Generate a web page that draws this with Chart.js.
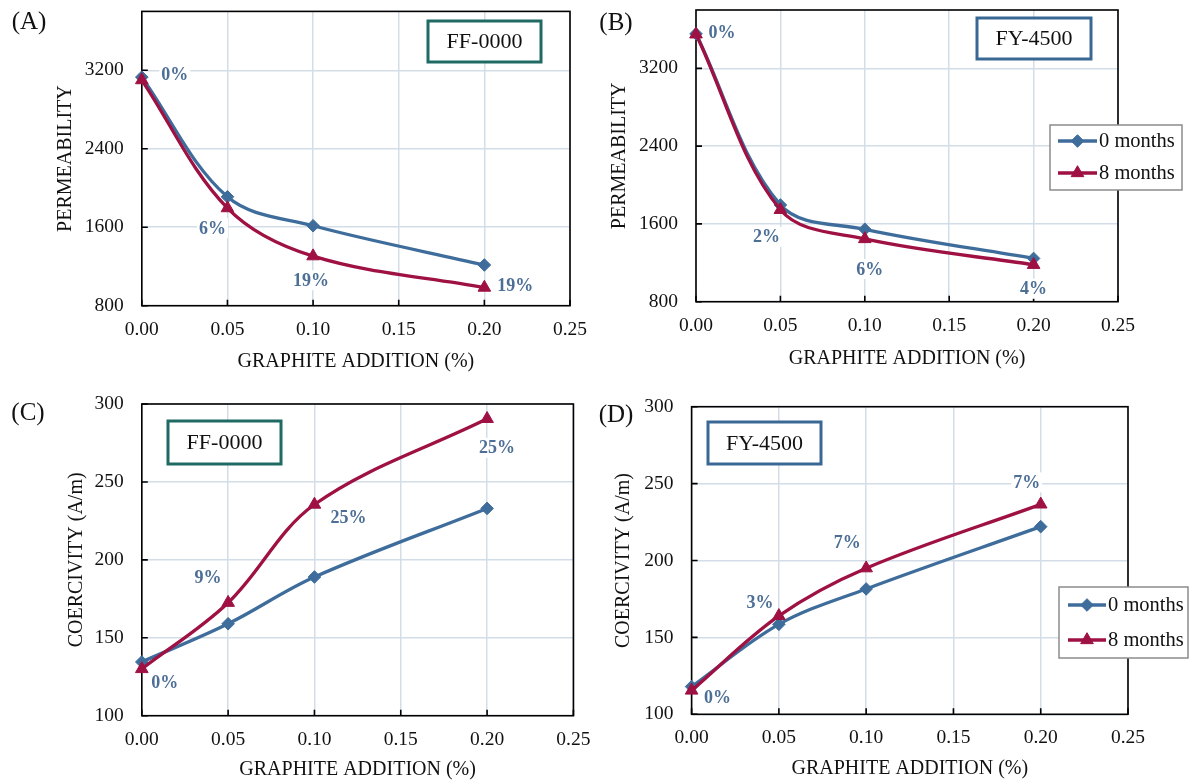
<!DOCTYPE html>
<html><head><meta charset="utf-8">
<script src="https://cdn.jsdelivr.net/npm/chart.js@4.4.1/dist/chart.umd.min.js"></script>
<style>
html,body{margin:0;padding:0;background:#fff;width:1189px;height:783px;overflow:hidden;}
.panel{position:absolute;}
canvas{display:block;}
</style></head><body>
<div class="panel" id="wA"><canvas id="cA"></canvas></div>
<div class="panel" id="wB"><canvas id="cB"></canvas></div>
<div class="panel" id="wC"><canvas id="cC"></canvas></div>
<div class="panel" id="wD"><canvas id="cD"></canvas></div>
<script>
// ---------------- DATA ----------------
const xValues = [0, 0.05, 0.10, 0.20];
const xTicks = [0, 0.05, 0.10, 0.15, 0.20, 0.25];
const permTicks = [800, 1600, 2400, 3200];
const coerTicks = [100, 150, 200, 250, 300];
const seriesNames = ['0 months', '8 months'];
const xTitle = 'GRAPHITE ADDITION (%)';
const permTitle = 'PERMEABILITY';
const coerTitle = 'COERCIVITY (A/m)';

const permFF_0 = [3130, 1910, 1615, 1215];
const permFF_8 = [3100, 1795, 1305, 985];
const permFY_0 = [3555, 1795, 1545, 1245];
const permFY_8 = [3550, 1745, 1445, 1180];
const coerFF_0 = [134.5, 159, 189, 233];
const coerFF_8 = [130, 172.5, 235.5, 290.5];
const coerFY_0 = [118, 158.5, 181.5, 222];
const coerFY_8 = [115.5, 164, 195, 236.5];

const pctPermFF = ['0%', '6%', '19%', '19%'];
const pctPermFY = ['0%', '2%', '6%', '4%'];
const pctCoerFF = ['0%', '9%', '25%', '25%'];
const pctCoerFY = ['0%', '3%', '7%', '7%'];

// ---------------- STYLE / LAYOUT ----------------
const FONT = "'Liberation Serif','Times New Roman',serif";
const BLUE = '#3e6d9c', RED = '#9e1142', PCT = '#4d6f96', GRID = '#d3dde8';
const TEAL = '#1f6b64', BOXBLUE = '#3a6894';

const panels = [
  { canvas: 'cA', wrap: 'wA', origin: [0, 0], size: [594, 390], area: [141.8, 11.4, 570, 305.7],
    yTitleX: 66, xTitleY: 361.5, ymin: 800, ymax: 3800, yTicks: permTicks, yTitle: permTitle,
    s0: permFF_0, s8: permFF_8, pct: pctPermFF,
    pctOff: [[33, -6], [-15, 20], [-2, 24], [31, -2]],
    letter: '(A)', letterPos: [29, 22],
    box: { text: 'FF-0000', rect: [428, 21, 541, 62], color: TEAL }, legend: null },
  { canvas: 'cB', wrap: 'wB', origin: [594, 0], size: [595, 390], area: [696, 10, 1118, 301.7],
    yTitleX: 619.6, xTitleY: 358.3, ymin: 800, ymax: 3800, yTicks: permTicks, yTitle: permTitle,
    s0: permFY_0, s8: permFY_8, pct: pctPermFY,
    pctOff: [[26, -2], [-14, 27], [5, 30], [0, 24]],
    letter: '(B)', letterPos: [616, 23],
    box: { text: 'FY-4500', rect: [977, 18, 1091, 59], color: BOXBLUE },
    legend: { rect: [1050, 125, 1182, 190], rows: [141, 173], line: [1058, 1097], textX: 1099 } },
  { canvas: 'cC', wrap: 'wC', origin: [0, 390], size: [594, 393], area: [141.8, 404, 573.4, 715.7],
    yTitleX: 77, xTitleY: 770, ymin: 100, ymax: 300, yTicks: coerTicks, yTitle: coerTitle,
    s0: coerFF_0, s8: coerFF_8, pct: pctCoerFF,
    pctOff: [[23, 13], [-20, -25], [34, 13], [10, 29]],
    letter: '(C)', letterPos: [28, 413],
    box: { text: 'FF-0000', rect: [168, 421, 281, 464], color: TEAL }, legend: null },
  { canvas: 'cD', wrap: 'wD', origin: [594, 390], size: [595, 393], area: [691.6, 406.7, 1128, 714.3],
    yTitleX: 623.4, xTitleY: 768.3, ymin: 100, ymax: 300, yTicks: coerTicks, yTitle: coerTitle,
    s0: coerFY_0, s8: coerFY_8, pct: pctCoerFY,
    pctOff: [[26, 7], [-19, -14], [-19, -26], [-14, -22]],
    letter: '(D)', letterPos: [616, 415],
    box: { text: 'FY-4500', rect: [708, 422, 821, 464], color: BOXBLUE },
    legend: { rect: [1059, 587, 1188, 658], rows: [605, 640], line: [1068, 1106], textX: 1108 } }
];

function drawMarker(ctx, style, x, y, r, color) {
  ctx.save();
  ctx.fillStyle = color; ctx.strokeStyle = color; ctx.lineWidth = 1;
  ctx.beginPath();
  if (style === 'rectRot') {
    ctx.moveTo(x, y - r); ctx.lineTo(x + r, y); ctx.lineTo(x, y + r); ctx.lineTo(x - r, y);
  } else {
    ctx.moveTo(x, y - r); ctx.lineTo(x + r * 0.866, y + r * 0.5); ctx.lineTo(x - r * 0.866, y + r * 0.5);
  }
  ctx.closePath(); ctx.fill(); ctx.stroke();
  ctx.restore();
}

const decoPlugin = {
  id: 'deco',
  beforeDatasetsDraw(chart, args, o) {
    const ctx = chart.ctx, a = chart.chartArea;
    const xs = chart.scales.x, ys = chart.scales.y;
    ctx.save();
    ctx.strokeStyle = '#000'; ctx.lineWidth = 1.6;
    ctx.strokeRect(a.left, a.top, a.right - a.left, a.bottom - a.top);
    ctx.beginPath();
    xs.ticks.forEach(t => { const px = xs.getPixelForValue(t.value); ctx.moveTo(px, a.bottom); ctx.lineTo(px, a.bottom - 6); });
    ys.ticks.forEach(t => { const py = ys.getPixelForValue(t.value); ctx.moveTo(a.left, py); ctx.lineTo(a.left + 6, py); });
    ctx.stroke();
    ctx.restore();
  },
  afterDatasetsDraw(chart, args, o) {
    const ctx = chart.ctx;
    const [ox, oy] = o.origin;
    ctx.save();
    const meta = chart.getDatasetMeta(1);
    ctx.font = "bold 18px " + FONT;
    ctx.textAlign = 'center'; ctx.textBaseline = 'middle';
    o.pct.forEach((txt, i) => {
      const pt = meta.data[i];
      const x = pt.x + o.pctOff[i][0], y = pt.y + o.pctOff[i][1];
      const w = ctx.measureText(txt).width;
      ctx.fillStyle = '#fff';
      ctx.fillRect(x - w / 2 - 2, y - 10, w + 4, 20);
      ctx.fillStyle = PCT;
      ctx.fillText(txt, x, y + 1);
    });
    const b = o.box;
    const [bx0, by0, bx1, by1] = [b.rect[0] - ox, b.rect[1] - oy, b.rect[2] - ox, b.rect[3] - oy];
    ctx.fillStyle = '#fff';
    ctx.fillRect(bx0, by0, bx1 - bx0, by1 - by0);
    ctx.strokeStyle = b.color; ctx.lineWidth = 3;
    ctx.strokeRect(bx0, by0, bx1 - bx0, by1 - by0);
    ctx.fillStyle = '#111'; ctx.font = "22px " + FONT;
    ctx.fillText(b.text, (bx0 + bx1) / 2, (by0 + by1) / 2 + 1);
    ctx.font = "25px " + FONT;
    ctx.fillStyle = '#111';
    ctx.fillText(o.letter, o.letterPos[0] - ox, o.letterPos[1] - oy);
    if (o.legend) {
      const lg = o.legend;
      const [lx0, ly0, lx1, ly1] = [lg.rect[0] - ox, lg.rect[1] - oy, lg.rect[2] - ox, lg.rect[3] - oy];
      ctx.fillStyle = '#fff';
      ctx.fillRect(lx0, ly0, lx1 - lx0, ly1 - ly0);
      ctx.strokeStyle = '#8c8c8c'; ctx.lineWidth = 1.5;
      ctx.strokeRect(lx0, ly0, lx1 - lx0, ly1 - ly0);
      chart.data.datasets.forEach((ds, i) => {
        const y = lg.rows[i] - oy;
        const xa = lg.line[0] - ox, xb = lg.line[1] - ox;
        ctx.strokeStyle = ds.borderColor; ctx.lineWidth = 3.3;
        ctx.beginPath(); ctx.moveTo(xa, y); ctx.lineTo(xb, y); ctx.stroke();
        drawMarker(ctx, ds.pointStyle, (xa + xb) / 2, y, ds.pointRadius, ds.borderColor);
        ctx.fillStyle = '#111'; ctx.font = "20.5px " + FONT;
        ctx.textAlign = 'left';
        ctx.fillText(ds.label, lg.textX - ox, y + 1);
      });
    }
    ctx.restore();
  }
};

panels.forEach(p => {
  const [cx, cy] = p.origin, [cw, ch] = p.size, [L, T, R, B] = p.area;
  const lh = 24;
  const wy = L - p.yTitleX + lh / 2;
  const hx = p.xTitleY + lh / 2 - B;
  const wrap = document.getElementById(p.wrap);
  wrap.style.left = cx + 'px'; wrap.style.top = cy + 'px';
  const cv = document.getElementById(p.canvas);
  cv.width = cw; cv.height = ch; cv.style.width = cw + 'px'; cv.style.height = ch + 'px';
  new Chart(cv, {
    type: 'line',
    data: {
      datasets: [
        { label: seriesNames[0], data: xValues.map((x, i) => ({ x, y: p.s0[i] })),
          borderColor: BLUE, backgroundColor: BLUE, pointBackgroundColor: BLUE, pointBorderColor: BLUE,
          pointStyle: 'rectRot', pointRadius: 6.3, pointBorderWidth: 1, borderWidth: 3.3, tension: 0.35,
          order: 2, clip: false },
        { label: seriesNames[1], data: xValues.map((x, i) => ({ x, y: p.s8[i] })),
          borderColor: RED, backgroundColor: RED, pointBackgroundColor: RED, pointBorderColor: RED,
          pointStyle: 'triangle', pointRadius: 7.3, pointBorderWidth: 1, borderWidth: 3.3, tension: 0.35,
          order: 1, clip: false }
      ]
    },
    options: {
      responsive: false, animation: false, devicePixelRatio: 1, events: [],
      layout: { padding: { left: L - cx - wy, top: T - cy, right: cx + cw - R, bottom: cy + ch - B - hx } },
      plugins: {
        legend: { display: false }, tooltip: { enabled: false },
        deco: { origin: p.origin, pct: p.pct, pctOff: p.pctOff, box: p.box, letter: p.letter,
                letterPos: p.letterPos, legend: p.legend }
      },
      scales: {
        x: {
          type: 'linear', min: 0, max: 0.25,
          afterBuildTicks: s => { s.ticks = xTicks.map(v => ({ value: v })); },
          ticks: { callback: v => Number(v).toFixed(2), font: { family: FONT, size: 19.5 }, color: '#111',
                   padding: 12, maxRotation: 0, autoSkip: false },
          grid: { color: GRID, lineWidth: 1.5, drawTicks: false },
          border: { display: false },
          title: { display: true, text: xTitle, font: { family: FONT, size: 20 }, color: '#111', padding: 0 },
          afterFit: s => { s.height = hx; s.paddingLeft = 0; s.paddingRight = 0; }
        },
        y: {
          type: 'linear', min: p.ymin, max: p.ymax,
          afterBuildTicks: s => { s.ticks = p.yTicks.map(v => ({ value: v })); },
          ticks: { callback: v => String(v), font: { family: FONT, size: 19.5 }, color: '#111', padding: 18, autoSkip: false },
          grid: { color: GRID, lineWidth: 1.5, drawTicks: false },
          border: { display: false },
          title: { display: true, text: p.yTitle, font: { family: FONT, size: 20 }, color: '#111', padding: 0 },
          afterFit: s => { s.width = wy; s.paddingTop = 0; s.paddingBottom = 0; }
        }
      }
    },
    plugins: [decoPlugin]
  });
});
</script>
</body></html>
